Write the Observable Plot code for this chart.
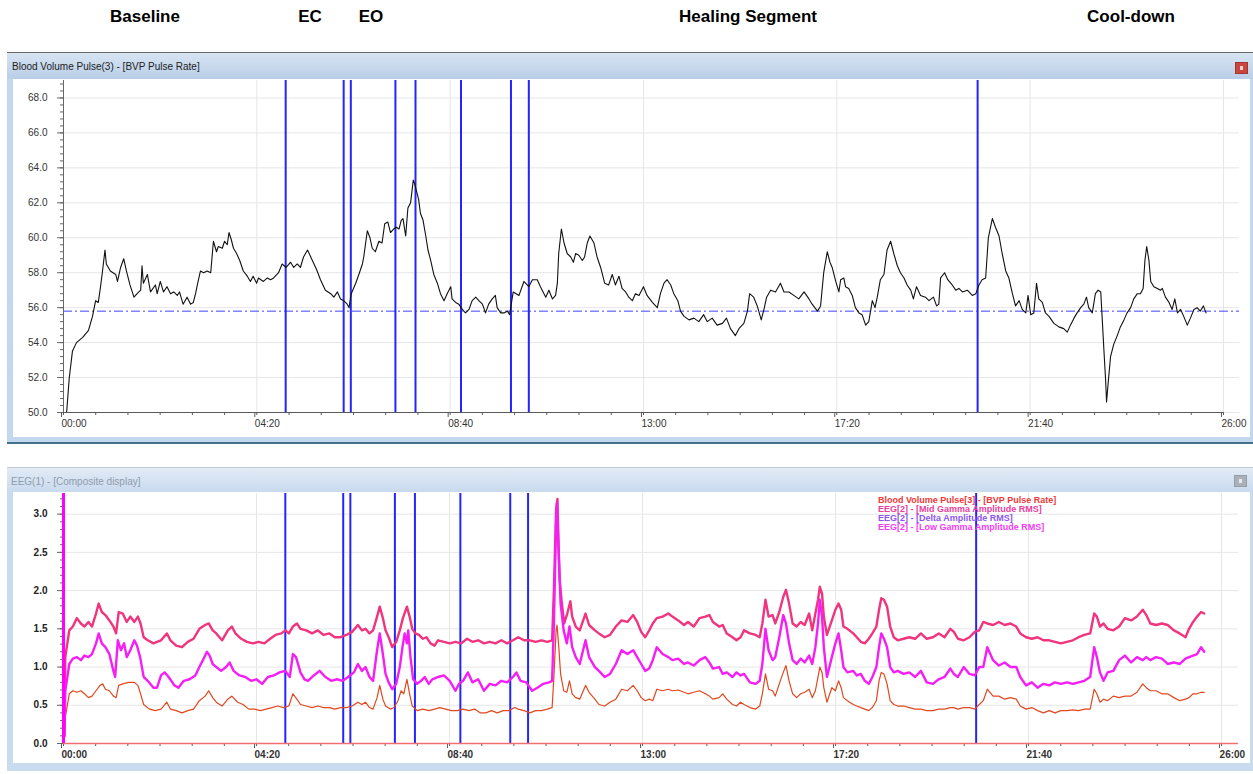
<!DOCTYPE html>
<html>
<head>
<meta charset="utf-8">
<script src="https://cdn.jsdelivr.net/npm/d3@7"></script>
<script src="https://cdn.jsdelivr.net/npm/@observablehq/plot@0.6"></script>
<style>
html,body{margin:0;padding:0;background:#fff;}
#root{position:relative;width:1253px;height:774px;overflow:hidden;font-family:"Liberation Sans",Arial,sans-serif;}
.abs{position:absolute;}
.hdr{position:absolute;top:8px;font-size:17px;font-weight:bold;line-height:17px;color:#000;transform:translateX(-50%);white-space:nowrap;}
.wtitle{position:absolute;font-size:10px;line-height:10px;white-space:nowrap;}
.legend{position:absolute;left:878px;font-size:9px;font-weight:bold;line-height:9px;white-space:nowrap;}
</style>
</head>
<body>
<div id="root">
  <div class="hdr" style="left:145px">Baseline</div>
  <div class="hdr" style="left:310px">EC</div>
  <div class="hdr" style="left:371px">EO</div>
  <div class="hdr" style="left:748px">Healing Segment</div>
  <div class="hdr" style="left:1131px">Cool-down</div>

  <!-- top window -->
  <div class="abs" style="left:7px;top:52px;width:1246px;height:392px;background:#c3d7ee;border-top:1px solid #6a6a6a;border-bottom:2px solid #44728e;box-sizing:border-box;"></div>
  <div class="abs" style="left:7px;top:53px;width:1246px;height:26px;background:linear-gradient(#d7e4f3,#b9cee7);"></div>
  <div class="wtitle" style="left:12px;top:62px;color:#222;">Blood Volume Pulse(3) - [BVP Pulse Rate]</div>
  <div class="abs" style="left:1235px;top:62px;width:13px;height:12px;background:#c9463f;border:1px solid #a83430;box-sizing:border-box;"><div class="abs" style="left:4px;top:3px;width:3px;height:4px;background:#f3d0cc;"></div></div>
  <div id="topPanel" class="abs" style="left:13px;top:79px;width:1237px;height:358px;background:#fff;"></div>

  <!-- bottom window -->
  <div class="abs" style="left:7px;top:467px;width:1246px;height:304px;background:#c9dbef;border-top:1px solid #c3c9d0;box-sizing:border-box;"></div>
  <div class="abs" style="left:7px;top:468px;width:1246px;height:24px;background:linear-gradient(#e2ebf6,#c9daee);"></div>
  <div class="wtitle" style="left:11px;top:477px;color:#8e9cab;">EEG(1) - [Composite display]</div>
  <div class="abs" style="left:1234px;top:475px;width:13px;height:12px;background:#aab1b9;border:1px solid #959ca5;box-sizing:border-box;"><div class="abs" style="left:4px;top:3px;width:3px;height:4px;background:#e8eaee;"></div></div>
  <div id="bottomPanel" class="abs" style="left:13px;top:492px;width:1237px;height:271px;background:#fff;"></div>

  <div id="legend"></div>
</div>
<script>
// ---------------- DATA ----------------
// time axis tick labels (mm:ss)
const timeTickLabels = ["00:00","04:20","08:40","13:00","17:20","21:40","26:00"];
// event marker times (minutes)
const eventMarkers = [4.98, 6.28, 6.44, 7.44, 7.89, 8.91, 10.03, 10.43, 20.49];
// baseline reference for pulse rate (bpm)
const pulseBaseline = [55.8];
// top y ticks
const pulseTicks = [50,52,54,56,58,60,62,64,66,68];
// bottom y ticks
const eegTicks = [0,0.5,1.0,1.5,2.0,2.5,3.0];

// BVP pulse rate [minutes, bpm]
const bvpPulseRate = [
[0.07,50.0],[0.13,52.0],[0.20,53.5],[0.29,54.0],[0.43,54.3],[0.56,54.7],[0.65,55.5],[0.72,56.4],[0.78,56.3],[0.83,57.2],[0.87,58.0],[0.93,59.3],[0.96,58.5],[1.05,58.1],[1.17,57.9],[1.21,57.5],[1.28,58.3],[1.35,58.8],[1.41,58.1],[1.49,57.3],[1.58,56.6],[1.65,56.8],[1.73,57.0],[1.76,58.4],[1.79,57.4],[1.88,57.9],[1.95,56.9],[2.06,57.3],[2.10,56.8],[2.17,57.5],[2.24,56.9],[2.32,57.2],[2.40,56.8],[2.47,56.9],[2.55,56.7],[2.60,56.9],[2.68,56.2],[2.77,56.6],[2.85,56.2],[2.91,56.3],[2.96,56.8],[3.00,57.3],[3.07,58.1],[3.14,58.0],[3.22,58.1],[3.30,58.0],[3.36,59.8],[3.43,59.2],[3.47,59.5],[3.56,59.4],[3.61,59.8],[3.67,59.6],[3.71,60.3],[3.76,59.9],[3.81,59.4],[3.88,59.1],[3.95,58.7],[4.03,58.1],[4.12,57.8],[4.19,57.5],[4.25,57.8],[4.33,57.4],[4.37,57.7],[4.48,57.5],[4.57,57.7],[4.64,57.6],[4.71,57.7],[4.82,58.0],[4.90,58.5],[4.99,58.3],[5.09,58.6],[5.16,58.3],[5.24,58.5],[5.31,58.3],
[5.38,58.9],[5.47,59.3],[5.56,58.8],[5.67,58.2],[5.76,57.6],[5.87,57.0],[5.99,56.8],[6.06,56.6],[6.14,56.9],[6.21,56.5],[6.28,56.4],[6.36,56.2],[6.40,56.0],[6.45,56.8],[6.55,57.4],[6.62,57.9],[6.70,58.5],[6.73,58.9],[6.81,60.4],[6.87,60.0],[6.92,59.4],[6.99,59.2],[7.07,59.8],[7.14,59.7],[7.20,60.8],[7.27,60.9],[7.33,60.3],[7.40,60.5],[7.46,60.6],[7.52,60.5],[7.57,61.0],[7.61,61.1],[7.67,60.1],[7.72,61.7],[7.78,62.0],[7.84,63.3],[7.87,63.1],[7.91,62.7],[7.96,62.2],[8.00,61.4],[8.06,61.0],[8.12,60.1],[8.17,59.3],[8.23,58.7],[8.30,57.9],[8.38,57.4],[8.45,56.8],[8.53,56.4],[8.60,56.8],[8.68,57.2],[8.71,56.5],[8.79,56.3],[8.86,56.2],[8.94,55.9],[9.01,55.7],[9.09,55.9],[9.16,56.4],[9.24,56.6],[9.31,56.4],[9.39,56.2],[9.46,55.7],[9.53,56.2],[9.61,56.5],[9.68,56.7],[9.72,56.0],[9.80,55.7],[9.87,55.7],[9.95,55.8],[10.00,55.6],
[10.08,56.9],[10.21,56.7],[10.32,57.5],[10.43,57.2],[10.51,57.6],[10.62,57.6],[10.69,57.2],[10.81,56.6],[10.88,57.0],[10.96,56.5],[11.03,56.7],[11.07,57.4],[11.10,59.1],[11.16,60.5],[11.22,59.7],[11.29,59.1],[11.37,58.9],[11.43,58.6],[11.48,59.1],[11.55,59.0],[11.63,58.7],[11.68,58.9],[11.74,59.7],[11.80,60.1],[11.89,59.7],[11.96,58.9],[12.04,58.3],[12.13,57.4],[12.22,57.3],[12.30,57.9],[12.37,57.3],[12.45,57.8],[12.52,57.1],[12.60,56.9],[12.67,56.6],[12.75,56.4],[12.82,56.8],[12.90,56.7],[13.00,57.2],[13.08,56.7],[13.20,56.3],[13.31,56.0],[13.38,56.8],[13.46,57.4],[13.53,57.6],[13.61,57.3],[13.68,56.8],[13.77,56.4],[13.83,55.8],[13.91,55.5],[14.02,55.3],[14.13,55.4],[14.24,55.2],[14.35,55.6],[14.43,55.2],[14.54,55.4],[14.65,55.0],[14.77,55.1],[14.86,55.4],[14.95,54.8],[15.06,54.4],[15.14,54.8],[15.25,55.1],[15.33,55.8],[15.38,56.8],[15.47,56.6],[15.55,56.1],[15.64,55.3],[15.71,56.0],[15.76,56.6],[15.85,57.0],[15.96,56.9],[16.07,57.4],[16.15,56.9],[16.26,56.9],[16.37,56.7],[16.48,56.5],[16.60,56.9],[16.71,56.5],[16.78,56.2],[16.90,55.8],[16.97,56.1],[17.04,58.0],[17.12,59.2],[17.18,58.6],[17.23,58.3],[17.31,57.5],[17.38,56.9],
[17.42,57.6],[17.49,57.7],[17.53,57.2],[17.60,57.1],[17.68,56.7],[17.75,56.0],[17.83,55.7],[17.90,55.6],[17.98,55.0],[18.05,55.2],[18.13,56.4],[18.19,56.0],[18.24,56.6],[18.31,57.6],[18.39,57.9],[18.46,59.3],[18.54,59.8],[18.61,59.1],[18.69,58.4],[18.76,58.0],[18.84,57.7],[18.91,57.3],[18.99,57.0],[19.05,56.5],[19.12,57.2],[19.21,56.7],[19.32,56.6],[19.40,56.4],[19.50,56.6],[19.57,56.1],[19.62,56.2],[19.66,57.7],[19.75,58.0],[19.82,57.6],[19.92,57.3],[20.00,57.0],[20.07,57.1],[20.15,56.9],[20.26,57.0],[20.37,56.7],[20.45,56.8],[20.52,57.3],[20.59,57.6],[20.67,57.7],[20.73,60.0],[20.82,61.1],[20.89,60.6],[20.97,60.1],[21.04,59.1],[21.12,58.1],[21.19,57.7],[21.27,56.8],[21.34,56.1],[21.42,56.4],[21.49,55.9],[21.57,55.7],[21.62,56.7],[21.68,55.6],[21.75,55.7],[21.81,57.4],[21.86,56.5],[21.94,56.3],[22.01,55.7],[22.09,55.5],[22.20,55.1],[22.31,54.9],[22.42,54.8],[22.50,54.6],[22.57,55.0],[22.65,55.4],[22.72,55.7],[22.80,56.0],[22.87,56.2],[22.93,56.6],[22.98,56.0],[23.06,55.7],[23.13,56.8],[23.19,57.0],[23.25,56.9],[23.28,55.5],[23.32,53.6],[23.36,51.8],[23.38,50.6],[23.42,51.8],[23.47,53.2],[23.54,53.9],[23.62,54.4],[23.69,54.9],[23.77,55.3],[23.84,55.7],[23.92,56.0],[23.99,56.5],[24.07,56.8],[24.14,56.8],[24.20,57.1],[24.24,58.7],[24.28,59.5],[24.33,58.7],[24.37,57.5],[24.44,57.2],[24.52,57.1],[24.59,57.0],[24.63,57.1],[24.70,56.6],[24.78,56.3],[24.85,55.9],[24.91,56.5],[24.97,55.7],[25.04,55.9],[25.11,55.5],[25.19,55.0],[25.26,55.4],[25.34,55.9],[25.41,56.0],[25.48,55.8],[25.55,56.1],[25.61,55.7]
];

// EEG Mid Gamma Amplitude RMS [minutes, value]
const midGamma = [
[0.02,0.10],[0.04,1.13],[0.13,1.48],[0.21,1.53],[0.30,1.64],[0.39,1.57],[0.47,1.53],[0.56,1.59],[0.64,1.53],[0.73,1.70],[0.79,1.83],[0.86,1.72],[0.94,1.68],[1.03,1.61],[1.12,1.53],[1.18,1.44],[1.24,1.72],[1.33,1.70],[1.42,1.59],[1.50,1.66],[1.59,1.59],[1.67,1.66],[1.73,1.57],[1.80,1.39],[1.89,1.35],[2.02,1.31],[2.10,1.33],[2.19,1.35],[2.32,1.44],[2.40,1.35],[2.53,1.28],[2.66,1.26],[2.79,1.33],[2.92,1.37],[3.05,1.50],[3.18,1.55],[3.26,1.57],[3.35,1.48],[3.43,1.44],[3.56,1.35],[3.69,1.48],[3.78,1.53],[3.86,1.44],[3.99,1.37],[4.12,1.33],[4.25,1.31],[4.38,1.33],[4.51,1.31],[4.64,1.37],[4.76,1.42],[4.89,1.44],[4.98,1.48],[5.06,1.44],[5.15,1.53],[5.24,1.57],[5.32,1.50],[5.45,1.48],[5.58,1.44],[5.71,1.48],[5.84,1.42],[5.97,1.44],[6.09,1.39],[6.22,1.39],[6.35,1.42],[6.48,1.46],[6.61,1.55],[6.70,1.48],[6.78,1.50],[6.87,1.44],[6.95,1.48],[7.04,1.66],[7.10,1.79],[7.17,1.64],[7.23,1.48],[7.30,1.39],[7.38,1.26],[7.47,1.33],[7.55,1.48],[7.62,1.64],[7.71,1.79],[7.77,1.66],[7.83,1.50],[7.90,1.44],[7.98,1.42],[8.07,1.37],[8.15,1.39],[8.24,1.31],[8.33,1.28],[8.41,1.35],[8.54,1.33],[8.67,1.31],[8.80,1.33],[8.93,1.31],[9.06,1.37],[9.18,1.33],[9.31,1.35],[9.44,1.31],[9.57,1.33],[9.70,1.31],[9.83,1.35],[9.96,1.31],[10.09,1.35],[10.21,1.39],[10.34,1.35],[10.47,1.35],[10.60,1.33],[10.73,1.35],[10.86,1.33],[10.97,1.35],[11.01,2.01],[11.06,3.07],[11.09,3.20],[11.11,2.67],[11.14,2.14],[11.18,1.88],[11.24,1.57],[11.31,1.70],[11.38,1.86],[11.42,1.66],[11.50,1.53],[11.59,1.48],[11.72,1.70],[11.80,1.55],[11.93,1.48],[12.02,1.44],[12.15,1.39],[12.27,1.42],[12.40,1.53],[12.53,1.61],[12.66,1.59],[12.79,1.68],[12.88,1.59],
[12.97,1.46],[13.06,1.39],[13.15,1.48],[13.23,1.57],[13.32,1.64],[13.45,1.66],[13.58,1.70],[13.67,1.66],[13.80,1.61],[13.93,1.55],[14.02,1.59],[14.15,1.53],[14.28,1.64],[14.41,1.66],[14.50,1.68],[14.58,1.59],[14.72,1.53],[14.80,1.55],[14.89,1.44],[15.02,1.39],[15.11,1.35],[15.20,1.39],[15.28,1.48],[15.41,1.44],[15.54,1.42],[15.63,1.39],[15.69,1.57],[15.76,1.88],[15.83,1.66],[15.92,1.68],[15.98,1.57],[16.07,1.72],[16.16,1.92],[16.22,2.01],[16.29,1.83],[16.37,1.57],[16.46,1.53],[16.55,1.59],[16.64,1.55],[16.74,1.70],[16.81,1.48],[16.88,1.70],[16.94,1.88],[16.98,2.05],[17.03,1.96],[17.07,1.66],[17.14,1.42],[17.25,1.61],[17.33,1.75],[17.40,1.83],[17.46,1.75],[17.51,1.53],[17.60,1.50],[17.73,1.44],[17.81,1.39],[17.90,1.33],[17.99,1.31],[18.08,1.37],[18.16,1.44],[18.25,1.53],[18.31,1.75],[18.36,1.90],[18.42,1.88],[18.49,1.79],[18.56,1.53],[18.64,1.39],[18.73,1.35],[18.86,1.37],[18.99,1.39],[19.12,1.37],[19.25,1.44],[19.38,1.37],[19.52,1.39],[19.65,1.44],[19.78,1.39],[19.91,1.50],[19.99,1.46],[20.08,1.37],[20.21,1.35],[20.34,1.39],[20.46,1.46],[20.56,1.48],[20.65,1.59],[20.74,1.57],[20.87,1.55],[21.00,1.59],[21.13,1.55],[21.26,1.57],[21.39,1.53],[21.48,1.44],[21.61,1.39],[21.74,1.37],[21.87,1.39],[22.00,1.35],[22.13,1.35],[22.26,1.33],[22.39,1.31],[22.53,1.33],[22.66,1.35],[22.79,1.39],[22.92,1.42],[23.05,1.44],[23.14,1.70],[23.20,1.66],[23.27,1.53],[23.35,1.57],[23.44,1.50],[23.57,1.48],[23.70,1.53],[23.83,1.64],[23.97,1.61],[24.10,1.66],[24.23,1.75],[24.31,1.68],[24.40,1.57],[24.53,1.55],[24.66,1.57],[24.79,1.55],[24.93,1.48],[25.06,1.44],[25.19,1.39],[25.27,1.50],[25.36,1.59],[25.45,1.66],[25.54,1.72],[25.61,1.70]
];

// EEG Low Gamma Amplitude RMS [minutes, value]
const lowGamma = [
[0.02,0.10],[0.04,0.69],[0.13,1.04],[0.21,1.11],[0.30,1.13],[0.39,1.09],[0.47,1.15],[0.56,1.13],[0.64,1.17],[0.73,1.31],[0.79,1.44],[0.86,1.31],[0.94,1.26],[1.03,1.17],[1.12,0.95],[1.16,0.87],[1.22,1.35],[1.29,1.22],[1.36,1.31],[1.42,1.13],[1.50,1.22],[1.59,1.35],[1.65,1.28],[1.72,1.13],[1.80,0.87],[1.89,0.82],[2.02,0.73],[2.10,0.73],[2.19,0.89],[2.27,0.93],[2.36,0.87],[2.49,0.76],[2.58,0.73],[2.70,0.82],[2.83,0.84],[2.96,0.89],[3.05,1.00],[3.13,1.09],[3.22,1.20],[3.28,1.15],[3.35,1.04],[3.43,1.00],[3.54,0.95],[3.65,1.00],[3.73,1.06],[3.82,0.95],[3.95,0.89],[4.08,0.87],[4.21,0.82],[4.33,0.84],[4.46,0.78],[4.59,0.87],[4.72,0.89],[4.85,0.93],[4.98,0.95],[5.08,0.87],[5.15,1.17],[5.22,1.13],[5.32,0.93],[5.41,0.84],[5.49,0.82],[5.62,0.89],[5.75,0.95],[5.88,0.87],[6.01,0.82],[6.14,0.84],[6.27,0.82],[6.39,0.87],[6.52,0.93],[6.61,1.04],[6.70,0.95],[6.78,1.00],[6.87,0.87],[6.95,0.82],[7.04,1.22],[7.10,1.44],[7.17,1.17],[7.23,0.91],[7.30,0.80],[7.38,0.71],[7.47,0.78],[7.55,1.00],[7.61,1.26],[7.66,1.44],[7.71,1.31],[7.74,1.48],[7.79,1.13],[7.85,0.84],[7.94,0.78],[8.03,0.82],[8.11,0.87],[8.20,0.78],[8.28,0.84],[8.41,0.87],[8.54,0.89],[8.67,0.82],[8.80,0.69],[8.88,0.78],[8.97,0.82],[9.08,0.93],[9.18,0.80],[9.31,0.84],[9.44,0.69],[9.57,0.78],[9.70,0.76],[9.83,0.82],[9.96,0.80],[10.09,0.87],[10.17,0.93],[10.26,0.82],[10.39,0.80],[10.52,0.69],[10.64,0.73],[10.77,0.78],[10.90,0.80],[10.97,0.82],[11.01,1.57],[11.06,2.89],[11.08,3.15],[11.12,2.45],[11.16,1.83],[11.23,1.48],[11.30,1.31],[11.36,1.53],[11.42,1.26],[11.50,1.13],[11.59,1.04],[11.72,1.35],[11.80,1.13],[11.93,1.00],[12.02,0.95],[12.15,0.87],[12.27,0.91],[12.40,1.04],[12.53,1.22],[12.66,1.17],[12.79,1.22],[12.88,1.13],
[12.97,1.04],[13.06,0.95],[13.15,0.98],[13.23,1.09],[13.32,1.26],[13.45,1.17],[13.58,1.13],[13.67,1.09],[13.80,1.11],[13.93,1.04],[14.02,1.06],[14.15,1.02],[14.28,1.09],[14.41,1.13],[14.50,1.06],[14.58,0.98],[14.72,1.00],[14.80,0.91],[14.89,0.93],[15.02,0.87],[15.11,0.93],[15.20,0.89],[15.28,0.91],[15.41,0.80],[15.54,0.78],[15.63,0.82],[15.69,1.04],[15.76,1.50],[15.83,1.22],[15.92,1.09],[15.98,1.13],[16.07,1.39],[16.16,1.68],[16.22,1.57],[16.29,1.31],[16.37,1.09],[16.46,1.04],[16.55,1.11],[16.64,1.06],[16.74,1.15],[16.81,1.04],[16.88,1.26],[16.94,1.57],[16.98,1.88],[17.03,1.66],[17.07,1.26],[17.14,0.87],[17.25,1.13],[17.33,1.31],[17.40,1.44],[17.46,1.22],[17.51,1.00],[17.60,0.93],[17.73,0.95],[17.81,0.89],[17.90,0.91],[17.99,0.82],[18.08,0.78],[18.16,0.87],[18.25,1.00],[18.31,1.26],[18.36,1.44],[18.42,1.37],[18.49,1.26],[18.56,1.00],[18.64,0.93],[18.73,0.95],[18.86,0.91],[18.99,0.93],[19.12,0.87],[19.25,0.95],[19.38,0.80],[19.52,0.78],[19.65,0.84],[19.78,0.87],[19.91,0.98],[19.99,0.91],[20.08,0.87],[20.21,1.00],[20.34,0.91],[20.46,0.89],[20.56,1.00],[20.65,1.00],[20.74,1.26],[20.87,1.09],[21.00,1.02],[21.13,1.06],[21.26,1.00],[21.39,1.00],[21.48,0.87],[21.61,0.76],[21.74,0.80],[21.87,0.73],[22.00,0.78],[22.13,0.76],[22.26,0.80],[22.39,0.78],[22.53,0.80],[22.66,0.78],[22.79,0.80],[22.92,0.82],[23.05,0.87],[23.14,1.26],[23.20,1.13],[23.27,0.93],[23.35,0.82],[23.44,0.93],[23.57,0.95],[23.70,1.09],[23.83,1.15],[23.97,1.06],[24.10,1.13],[24.23,1.09],[24.31,1.13],[24.40,1.09],[24.53,1.13],[24.66,1.11],[24.79,1.04],[24.93,1.06],[25.06,1.04],[25.19,1.11],[25.27,1.13],[25.36,1.15],[25.45,1.17],[25.54,1.26],[25.61,1.20]
];

// lower (orange-red) trace [minutes, value]
const lowerTrace = [
[0.02,0.05],[0.04,0.34],[0.13,0.65],[0.21,0.69],[0.30,0.67],[0.39,0.69],[0.47,0.65],[0.56,0.60],[0.64,0.62],[0.73,0.69],[0.82,0.76],[0.88,0.78],[0.94,0.71],[1.03,0.69],[1.12,0.62],[1.18,0.60],[1.24,0.76],[1.33,0.78],[1.46,0.80],[1.59,0.80],[1.67,0.76],[1.73,0.65],[1.80,0.51],[1.93,0.45],[2.06,0.43],[2.19,0.45],[2.32,0.54],[2.40,0.45],[2.53,0.43],[2.66,0.40],[2.79,0.43],[2.92,0.45],[3.05,0.56],[3.18,0.62],[3.26,0.69],[3.35,0.60],[3.43,0.54],[3.56,0.49],[3.69,0.58],[3.78,0.62],[3.91,0.54],[4.03,0.51],[4.16,0.45],[4.29,0.45],[4.42,0.43],[4.55,0.45],[4.68,0.47],[4.81,0.49],[4.94,0.47],[5.06,0.49],[5.15,0.65],[5.24,0.58],[5.32,0.51],[5.45,0.49],[5.58,0.47],[5.71,0.49],[5.84,0.47],[5.97,0.47],[6.09,0.45],[6.22,0.47],[6.35,0.47],[6.48,0.49],[6.61,0.54],[6.70,0.51],[6.78,0.54],[6.87,0.47],[6.95,0.45],[7.04,0.60],[7.10,0.76],[7.17,0.58],[7.23,0.49],[7.34,0.45],[7.42,0.47],[7.51,0.56],[7.58,0.69],[7.64,0.65],[7.71,0.84],[7.77,0.65],[7.83,0.49],[7.94,0.43],[8.07,0.45],[8.20,0.43],[8.33,0.45],[8.45,0.47],[8.58,0.45],[8.71,0.43],[8.84,0.43],[8.97,0.45],[9.10,0.43],[9.23,0.45],[9.36,0.40],[9.48,0.40],[9.61,0.43],[9.74,0.40],[9.87,0.43],[10.00,0.43],[10.13,0.47],[10.21,0.45],[10.34,0.43],[10.47,0.40],[10.60,0.43],[10.73,0.43],[10.86,0.45],[10.97,0.47],[11.01,0.87],[11.06,1.48],[11.08,1.55],[11.12,1.26],[11.16,0.91],[11.23,0.69],[11.30,0.67],[11.36,0.82],[11.42,0.65],[11.50,0.60],[11.59,0.58],[11.72,0.76],[11.80,0.67],[11.93,0.58],[12.02,0.51],[12.15,0.49],[12.27,0.54],[12.40,0.58],[12.53,0.71],[12.66,0.69],[12.79,0.76],[12.88,0.69],
[12.97,0.60],[13.06,0.56],[13.15,0.58],[13.23,0.56],[13.32,0.71],[13.45,0.69],[13.58,0.71],[13.67,0.69],[13.80,0.70],[13.93,0.67],[14.02,0.65],[14.15,0.67],[14.28,0.69],[14.41,0.65],[14.50,0.62],[14.58,0.58],[14.72,0.60],[14.80,0.65],[14.89,0.58],[15.02,0.51],[15.11,0.49],[15.20,0.54],[15.28,0.51],[15.41,0.47],[15.54,0.45],[15.63,0.49],[15.69,0.65],[15.76,0.91],[15.83,0.71],[15.92,0.69],[15.98,0.62],[16.07,0.78],[16.16,0.93],[16.22,1.02],[16.29,0.82],[16.37,0.65],[16.46,0.60],[16.55,0.65],[16.64,0.67],[16.74,0.71],[16.81,0.60],[16.88,0.69],[16.94,0.87],[16.98,1.00],[17.03,0.93],[17.07,0.73],[17.14,0.54],[17.25,0.73],[17.33,0.69],[17.40,0.82],[17.46,0.73],[17.51,0.60],[17.60,0.56],[17.73,0.51],[17.81,0.49],[17.90,0.47],[17.99,0.45],[18.08,0.43],[18.16,0.47],[18.25,0.56],[18.31,0.82],[18.36,0.93],[18.42,0.91],[18.49,0.78],[18.56,0.56],[18.64,0.51],[18.73,0.49],[18.86,0.49],[18.99,0.47],[19.12,0.45],[19.25,0.45],[19.38,0.43],[19.52,0.43],[19.65,0.45],[19.78,0.45],[19.91,0.47],[19.99,0.47],[20.08,0.45],[20.21,0.47],[20.34,0.47],[20.46,0.45],[20.56,0.51],[20.65,0.56],[20.74,0.71],[20.87,0.62],[21.00,0.62],[21.13,0.58],[21.26,0.60],[21.39,0.58],[21.48,0.49],[21.61,0.45],[21.74,0.47],[21.87,0.43],[22.00,0.40],[22.13,0.43],[22.26,0.40],[22.39,0.43],[22.53,0.43],[22.66,0.44],[22.79,0.43],[22.92,0.45],[23.05,0.45],[23.14,0.71],[23.20,0.65],[23.27,0.54],[23.35,0.58],[23.44,0.56],[23.57,0.62],[23.70,0.60],[23.83,0.62],[23.97,0.62],[24.10,0.67],[24.23,0.78],[24.31,0.73],[24.40,0.69],[24.53,0.69],[24.66,0.65],[24.79,0.65],[24.93,0.60],[25.06,0.56],[25.19,0.58],[25.27,0.60],[25.36,0.65],[25.45,0.65],[25.54,0.67],[25.61,0.67]
];

const legendLabels = [
  "Blood Volume Pulse[3] - [BVP Pulse Rate]",
  "EEG[2] - [Mid Gamma Amplitude RMS]",
  "EEG[2] - [Delta Amplitude RMS]",
  "EEG[2] - [Low Gamma Amplitude RMS]"
];
const legendColors = ["#ee3838", "#e8409e", "#8d55ee", "#f23cf2"];

// ---------------- DRAWING ----------------
const toMin = s => { const [m, ss] = s.split(":").map(Number); return m + ss / 60; };
const majorTimes = timeTickLabels.map(toMin);
const labelOf = new Map(majorTimes.map((t, i) => [t, timeTickLabels[i]]));
const tEnd = majorTimes[majorTimes.length - 1];
const minorTimes = d3.range(0, 37).map(i => i * tEnd / 36);
const X = d => d[0], Y = d => d[1];
const font = "Liberation Sans, Arial, sans-serif";

function axesX(y0, bold) {
  return [
    Plot.ruleY([y0], {x1: majorTimes[0], x2: tEnd, stroke: "#5a5a5a"}),
    Plot.axisX(minorTimes, {anchor: "bottom", tickSize: 3, tickFormat: () => "", stroke: "#5a5a5a", label: null}),
    Plot.axisX(majorTimes, {anchor: "bottom", tickSize: 5, tickPadding: 2, tickFormat: t => labelOf.get(t),
      textAnchor: "start", dx: -2, fill: "#333", stroke: "#5a5a5a", fontWeight: bold ? "bold" : "normal", label: null})
  ];
}

// Top panel
const topPlot = Plot.plot({
  width: 1237, height: 358,
  marginLeft: 50, marginRight: 11, marginTop: 1, marginBottom: 25,
  x: {domain: [0, 26.36], label: null},
  y: {domain: [50, 69], label: null},
  style: {fontFamily: font, fontSize: "10px", background: "transparent", overflow: "visible"},
  marks: [
    Plot.gridX(majorTimes, {stroke: "#e6e6e6", strokeOpacity: 1}),
    Plot.gridY(pulseTicks, {stroke: "#e6e6e6", strokeOpacity: 1}),
    Plot.ruleY(pulseBaseline, {stroke: "#4040ff", strokeDasharray: "9,3,2,3", strokeWidth: 1}),
    Plot.ruleX(eventMarkers, {stroke: "#2424ff", strokeWidth: 2}),
    Plot.line(bvpPulseRate, {x: X, y: Y, stroke: "#111", strokeWidth: 1.1}),
    Plot.ruleX([0], {stroke: "#666"}),
    Plot.axisY(d3.range(0, 48).map(i => 50 + i * 0.4), {anchor: "left", tickSize: 3, tickFormat: () => "", stroke: "#666", label: null}),
    Plot.axisY(pulseTicks, {anchor: "left", tickSize: 6, tickPadding: 10, tickFormat: d => d.toFixed(1), fill: "#333", stroke: "#666", label: null}),
    ...axesX(50, false)
  ]
});
document.getElementById("topPanel").appendChild(topPlot);

// Bottom panel
const bottomPlot = Plot.plot({
  width: 1237, height: 271,
  marginLeft: 50, marginRight: 12, marginTop: 1, marginBottom: 20,
  x: {domain: [0, 26.38], label: null},
  y: {domain: [0, 3.27], label: null},
  style: {fontFamily: font, fontSize: "10px", background: "transparent", overflow: "visible"},
  marks: [
    Plot.gridX(majorTimes, {stroke: "#e6e6e6", strokeOpacity: 1}),
    Plot.gridY(eegTicks, {stroke: "#e6e6e6", strokeOpacity: 1}),
    Plot.ruleX(eventMarkers, {stroke: "#2424ff", strokeWidth: 2}),
    Plot.line(lowerTrace, {x: X, y: Y, stroke: "#e0481f", strokeWidth: 1.2}),
    Plot.line(midGamma, {x: X, y: Y, stroke: "#f0347e", strokeWidth: 2.4}),
    Plot.line(lowGamma, {x: X, y: Y, stroke: "#f51ef5", strokeWidth: 2.4}),
    Plot.ruleX([0], {stroke: "#666"}),
    Plot.axisY(d3.range(0, 33).map(i => i * 0.1), {anchor: "left", tickSize: 3, tickFormat: () => "", stroke: "#666", label: null}),
    Plot.axisY(eegTicks, {anchor: "left", tickSize: 6, tickPadding: 10, tickFormat: d => d.toFixed(1), fill: "#222", stroke: "#666", fontWeight: "bold", label: null}),
    ...axesX(0, true),
    Plot.ruleY([0], {stroke: "#f07070", strokeWidth: 1.5}),
    Plot.ruleX([majorTimes[0]], {stroke: "#ff00ff", strokeWidth: 3})
  ]
});
document.getElementById("bottomPanel").appendChild(bottomPlot);

// Legend: stacked labels at the top right of the composite display
const lg = document.getElementById("legend");
legendLabels.forEach((text, i) => {
  const d = document.createElement("div");
  d.className = "legend";
  d.style.top = (496 + i * 9) + "px";
  d.style.color = legendColors[i];
  d.textContent = text;
  lg.appendChild(d);
});
</script>
</body>
</html>
